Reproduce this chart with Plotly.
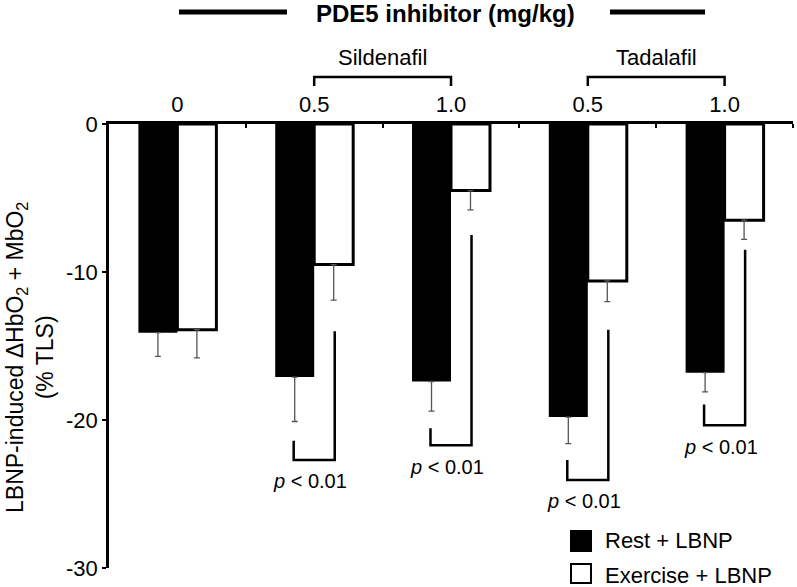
import plotly.graph_objects as go

# ---------------- data ----------------
doses = ["0", "0.5", "1.0", "0.5", "1.0"]
drug_names = ["Sildenafil", "Tadalafil"]
series_names = ["Rest + LBNP", "Exercise + LBNP"]
rest_mean = [-14.1, -17.1, -17.4, -19.8, -16.8]
rest_sem = [1.6, 3.0, 2.0, 1.8, 1.3]
ex_mean = [-13.9, -9.5, -4.5, -10.6, -6.5]
ex_sem = [1.9, 2.4, 1.3, 1.4, 1.3]
y_ticks = [0, -10, -20, -30]
y_tick_text = [str(v) for v in y_ticks]
sig_text = "<i>p</i> &lt; 0.01"
sig_groups = [1, 2, 3, 4]

# ---------------- layout geometry ----------------
W, H = 797, 587
ML, MR, MT, MB = 109, 4, 124, 19
PW, PH = W - ML - MR, H - MT - MB
FONT = "Liberation Sans, Arial, Helvetica, sans-serif"


def px_x(p):
    return (p - ML) / PW


def px_y(p):
    return (H - MB - p) / PH


xs = list(range(len(doses)))

fig = go.Figure()
fig.add_trace(go.Bar(
    x=xs, y=rest_mean, name=series_names[0], showlegend=False,
    marker=dict(color="black", line=dict(color="black", width=0)),
    error_y=dict(type="data", symmetric=False, array=[0] * len(xs),
                 arrayminus=rest_sem, color="#555", thickness=1.3, width=3),
))
fig.add_trace(go.Bar(
    x=xs, y=ex_mean, name=series_names[1], showlegend=False,
    marker=dict(color="white", line=dict(color="black", width=3)),
    error_y=dict(type="data", symmetric=False, array=[0] * len(xs),
                 arrayminus=ex_sem, color="#555", thickness=1.3, width=3),
))

shapes = []
annotations = []

# significance brackets (left-leg top, bottom, right-leg top)
bracket_levels = {1: (-21.4, -22.7, -14.0), 2: (-20.55, -21.7, -7.5),
                  3: (-22.7, -24.05, -13.9), 4: (-18.95, -20.35, -8.5)}
for g in sig_groups:
    lt, bt, rt = bracket_levels[g]
    xl, xr = g - 0.15, g + 0.15
    shapes.append(dict(type="path", xref="x", yref="y",
                       path=f"M {xl},{lt} L {xl},{bt} L {xr},{bt} L {xr},{rt}",
                       line=dict(color="black", width=2.5)))
    annotations.append(dict(x=g - 0.03, y=bt - 1.45, xref="x", yref="y",
                            text=sig_text, showarrow=False,
                            font=dict(size=20, color="black", family=FONT),
                            xanchor="center", yanchor="middle"))

# top header: PDE5 inhibitor with side lines
annotations.append(dict(x=px_x(445.5), y=px_y(13), xref="paper", yref="paper",
                        text="<b>PDE5 inhibitor (mg/kg)</b>", showarrow=False,
                        font=dict(size=24, color="black", family=FONT),
                        xanchor="center", yanchor="middle"))
for x0, x1 in [(179, 287), (610, 705)]:
    shapes.append(dict(type="line", xref="paper", yref="paper",
                       x0=px_x(x0), x1=px_x(x1), y0=px_y(12), y1=px_y(12),
                       line=dict(color="black", width=5)))

# drug brackets
for name, (a, b) in zip(drug_names, [(1, 2), (3, 4)]):
    shapes.append(dict(type="path", xref="x", yref="paper",
                       path=f"M {a},{px_y(86)} L {a},{px_y(77)} L {b},{px_y(77)} L {b},{px_y(86)}",
                       line=dict(color="black", width=2.5)))
    annotations.append(dict(x=(a + b) / 2, y=px_y(57), xref="x", yref="paper",
                            text=name, showarrow=False,
                            font=dict(size=22, color="black", family=FONT),
                            xanchor="center", yanchor="middle"))

# y-axis title
annotations.append(dict(x=px_x(30), y=px_y(358), xref="paper", yref="paper",
                        text="LBNP-induced \u0394HbO<sub>2</sub> + MbO<sub>2</sub><br>(% TLS)",
                        textangle=-90, showarrow=False,
                        font=dict(size=23, color="black", family=FONT),
                        xanchor="center", yanchor="middle"))

# legend (manual)
legend_rows = [(531, 551, "black", 540), (564, 583, "white", 575)]
for (t, b, col, yc), name in zip(legend_rows, series_names):
    shapes.append(dict(type="rect", xref="paper", yref="paper",
                       x0=px_x(571), x1=px_x(591), y0=px_y(b), y1=px_y(t),
                       fillcolor=col, line=dict(color="black", width=2)))
    annotations.append(dict(x=px_x(603), y=px_y(yc), xref="paper", yref="paper",
                            text=name, showarrow=False,
                            font=dict(size=22, color="black", family=FONT),
                            xanchor="left", yanchor="middle"))

fig.update_layout(
    width=W, height=H, autosize=False,
    margin=dict(l=ML, r=MR, t=MT, b=MB, pad=0),
    paper_bgcolor="white", plot_bgcolor="white",
    barmode="group", bargap=0.43, bargroupgap=0,
    font=dict(family=FONT, color="black", size=22),
    shapes=shapes, annotations=annotations,
    xaxis=dict(range=[-0.5, 4.5], side="top", tickmode="array", tickvals=xs,
               ticktext=doses, ticks="", showline=True, linecolor="black",
               linewidth=2.5, showgrid=False, zeroline=False,
               tickfont=dict(size=22, color="black", family=FONT),
               minor=dict(tickmode="array", tickvals=[i + 0.5 for i in xs],
                          ticks="inside", ticklen=4, tickwidth=2, tickcolor="black")),
    yaxis=dict(range=[-30, 0], tickmode="array", tickvals=y_ticks,
               ticktext=y_tick_text,
               ticks="outside", ticklen=4, tickwidth=2, tickcolor="black",
               showline=True, linecolor="black", linewidth=2.5,
               showgrid=False, zeroline=False,
               tickfont=dict(size=22, color="black", family=FONT)),
)

fig.write_html(
    "out.html",
    config={"displayModeBar": False},
    post_script="document.body.style.margin='0';document.body.style.overflow='hidden';",
)
